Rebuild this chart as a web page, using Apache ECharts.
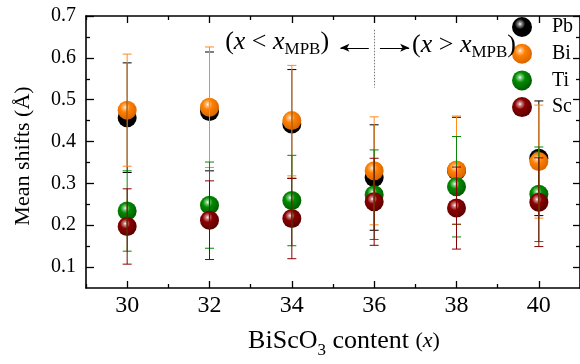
<!DOCTYPE html>
<html>
<head>
<meta charset="utf-8">
<script src="https://cdn.jsdelivr.net/npm/echarts@6/dist/echarts.min.js"></script>
<style>html,body{margin:0;padding:0;background:#fff;}#c{width:580px;height:364px;}</style>
</head>
<body>
<div id="c"></div>
<script>
// ---- data ----
var xValues = [30, 32, 34, 36, 38, 40];
var pbMean = [0.457, 0.472, 0.442, 0.314, 0.330, 0.360];
var pbErr  = [0.131, 0.142, 0.130, 0.126, 0.128, 0.137];
var biMean = [0.475, 0.482, 0.450, 0.330, 0.332, 0.352];
var biErr  = [0.134, 0.144, 0.132, 0.129, 0.129, 0.135];
var tiMean = [0.234, 0.248, 0.259, 0.273, 0.292, 0.274];
var tiErr  = [0.096, 0.103, 0.108, 0.107, 0.120, 0.113];
var scMean = [0.197, 0.212, 0.216, 0.256, 0.241, 0.255];
var scErr  = [0.090, 0.094, 0.096, 0.104, 0.098, 0.106];
var seriesNames = ['Pb', 'Bi', 'Ti', 'Sc'];
var xMajorTicks = [30, 32, 34, 36, 38, 40];
var xMinorTicks = [29, 31, 33, 35, 37, 39, 41];
var yMajorTicks = [0.1, 0.2, 0.3, 0.4, 0.5, 0.6, 0.7];
var yMinorTicks = [0.15, 0.25, 0.35, 0.45, 0.55, 0.65];

var FONT = '"Liberation Serif", "DejaVu Serif", serif';
var chart = echarts.init(document.getElementById('c'), null, {renderer: 'canvas'});

function sphere(base, dark, hl) {
  return {type: 'radial', x: 0.4, y: 0.35, r: 0.65, colorStops: [
    {offset: 0, color: '#ffffff'}, {offset: 0.12, color: hl}, {offset: 0.4, color: base}, {offset: 1, color: dark}
  ]};
}
var styles = [
  {fill: sphere('#000000', '#000000', '#9a9a9a'), line: '#000000'},
  {fill: sphere('#ff8000', '#d86500', '#ffc58a'), line: '#ff8a1c'},
  {fill: sphere('#008a00', '#005c00', '#8ad08a'), line: '#0a860a'},
  {fill: sphere('#8a0000', '#5a0000', '#d09090'), line: '#8a0000'}
];
var means = [pbMean, biMean, tiMean, scMean];
var errs = [pbErr, biErr, tiErr, scErr];

function errRender(color) {
  return function (params, api) {
    var x = api.value(0), lo = api.value(1), hi = api.value(2);
    var pt = api.coord([x, hi]), pb = api.coord([x, lo]);
    var hw = 4.5;
    var st = {stroke: color, lineWidth: 1, fill: null};
    return {type: 'group', children: [
      {type: 'line', shape: {x1: pt[0], y1: pt[1], x2: pb[0], y2: pb[1]}, style: st},
      {type: 'line', shape: {x1: pt[0] - hw, y1: pt[1], x2: pt[0] + hw, y2: pt[1]}, style: st},
      {type: 'line', shape: {x1: pb[0] - hw, y1: pb[1], x2: pb[0] + hw, y2: pb[1]}, style: st}
    ]};
  };
}

var series = [];
for (var k = 0; k < 4; k++) {
  var d = [];
  for (var i = 0; i < xValues.length; i++) d.push([xValues[i], means[k][i]]);
  series.push({name: seriesNames[k], type: 'scatter', symbol: 'circle', symbolSize: 19, z: 2 + k * 0.01,
    itemStyle: {color: styles[k].fill, opacity: 1}, data: d, xAxisIndex: 0, yAxisIndex: 0, silent: true});
}
for (var k2 = 0; k2 < 4; k2++) {
  var e = [];
  for (var j = 0; j < xValues.length; j++) e.push([xValues[j], means[k2][j] - errs[k2][j], means[k2][j] + errs[k2][j]]);
  series.push({name: seriesNames[k2] + ' err', type: 'custom', renderItem: errRender(styles[k2].line),
    data: e, z: 4, xAxisIndex: 0, yAxisIndex: 0, silent: true, encode: {x: 0, y: [1, 2]}});
}
// annotation lines
series.push({type: 'custom', renderItem: function () { return {type: 'group', children: []}; }, data: [],
  xAxisIndex: 0, yAxisIndex: 0, z: 5, silent: true,
  markLine: {silent: true, animation: false, label: {show: false},
    data: [
      [{coord: [36, 0.667], symbol: 'none'}, {coord: [36, 0.529], symbol: 'none', lineStyle: {color: '#777', type: [1.5, 1.5], width: 1}}],
      [{coord: [35.87, 0.624], symbol: 'none'}, {coord: [35.18, 0.624], symbol: 'arrow', symbolSize: [6, 9]}],
      [{coord: [36.14, 0.624], symbol: 'none'}, {coord: [36.85, 0.624], symbol: 'arrow', symbolSize: [6, 9]}]
    ],
    lineStyle: {color: '#000', type: 'solid', width: 1}
  }
});

var axLine = {show: true, lineStyle: {color: '#000', width: 1.6}};
function xAx(pos, ticks, len, labels, line) {
  return {type: 'value', position: pos, min: 29, max: 41, gridIndex: 0,
    axisLine: line ? axLine : {show: false}, splitLine: {show: false},
    axisTick: {show: true, inside: true, length: len, customValues: ticks, lineStyle: {color: '#000', width: 1.3}},
    axisLabel: labels ? {show: true, customValues: ticks, fontSize: 24, fontFamily: FONT, color: '#000', margin: 6} : {show: false}
  };
}
function yAx(pos, ticks, len, labels, line) {
  return {type: 'value', position: pos, min: 0.05, max: 0.7, gridIndex: 0,
    axisLine: line ? axLine : {show: false}, splitLine: {show: false},
    axisTick: {show: true, inside: true, length: len, customValues: ticks, lineStyle: {color: '#000', width: 1.3}},
    axisLabel: labels ? {show: true, customValues: ticks, fontSize: 20, fontFamily: FONT, color: '#000', margin: 10,
      formatter: function (v) { return v.toFixed(1); }} : {show: false}
  };
}
var xA0 = xAx('bottom', xMajorTicks, 7, true, true);
xA0.name = '{a|BiScO}{s|3}{a| content }{p|(}{i|x}{p|)}';
xA0.nameLocation = 'middle';
xA0.nameGap = 36;
xA0.nameTextStyle = {padding: [0, 0, 0, 22], rich: {
  a: {fontSize: 26, fontFamily: FONT, color: '#000'},
  s: {fontSize: 17, fontFamily: FONT, color: '#000', padding: [18, 0, 0, 0]},
  p: {fontSize: 22, fontFamily: FONT, color: '#000'},
  i: {fontSize: 22, fontFamily: FONT, color: '#000', fontStyle: 'italic'}
}};
var yA0 = yAx('left', yMajorTicks, 8, true, true);
yA0.name = 'Mean shifts (Å)';
yA0.nameLocation = 'middle';
yA0.nameGap = 52;
yA0.nameTextStyle = {fontSize: 22, fontFamily: FONT, color: '#000', padding: [0, 8, 0, 0]};

chart.setOption({
  animation: false,
  backgroundColor: '#fff',
  grid: {left: 86, top: 16, width: 496, height: 275, containLabel: false},
  xAxis: [xA0, xAx('bottom', xMinorTicks, 4, false, false), xAx('top', xMajorTicks, 7, false, true), xAx('top', xMinorTicks, 4, false, false)],
  yAxis: [yA0, yAx('left', yMinorTicks, 4, false, false), yAx('right', yMajorTicks, 7, false, true), yAx('right', yMinorTicks, 4, false, false)],
  legend: {show: true, orient: 'vertical', left: 512, top: 17, padding: 0, itemWidth: 20, itemHeight: 20, itemGap: 6.7,
    icon: 'circle', data: seriesNames, selectedMode: false,
    textStyle: {fontSize: 20, fontFamily: FONT, color: '#000', padding: [0, 0, 0, 15]}},
  series: series
});

// annotation texts positioned from data coordinates
var p1 = chart.convertToPixel({gridIndex: 0}, [32.38, 0.631]);
var p2 = chart.convertToPixel({gridIndex: 0}, [36.92, 0.624]);
var rich = {
  n: {fontSize: 26, fontFamily: FONT, color: '#000'},
  i: {fontSize: 26, fontFamily: FONT, color: '#000', fontStyle: 'italic'},
  s: {fontSize: 17, fontFamily: FONT, color: '#000', padding: [15, 0, 0, 0]}
};
chart.setOption({graphic: [
  {type: 'text', left: p1[0], top: p1[1] - 16, z: 10, style: {text: '{n|(}{i|x}{n| < }{i|x}{s|MPB}{n|)}', rich: rich}},
  {type: 'text', left: p2[0], top: p2[1] - 16, z: 10, style: {text: '{n|(}{i|x}{n| > }{i|x}{s|MPB}{n|)}', rich: rich}}
]});
</script>
</body>
</html>
